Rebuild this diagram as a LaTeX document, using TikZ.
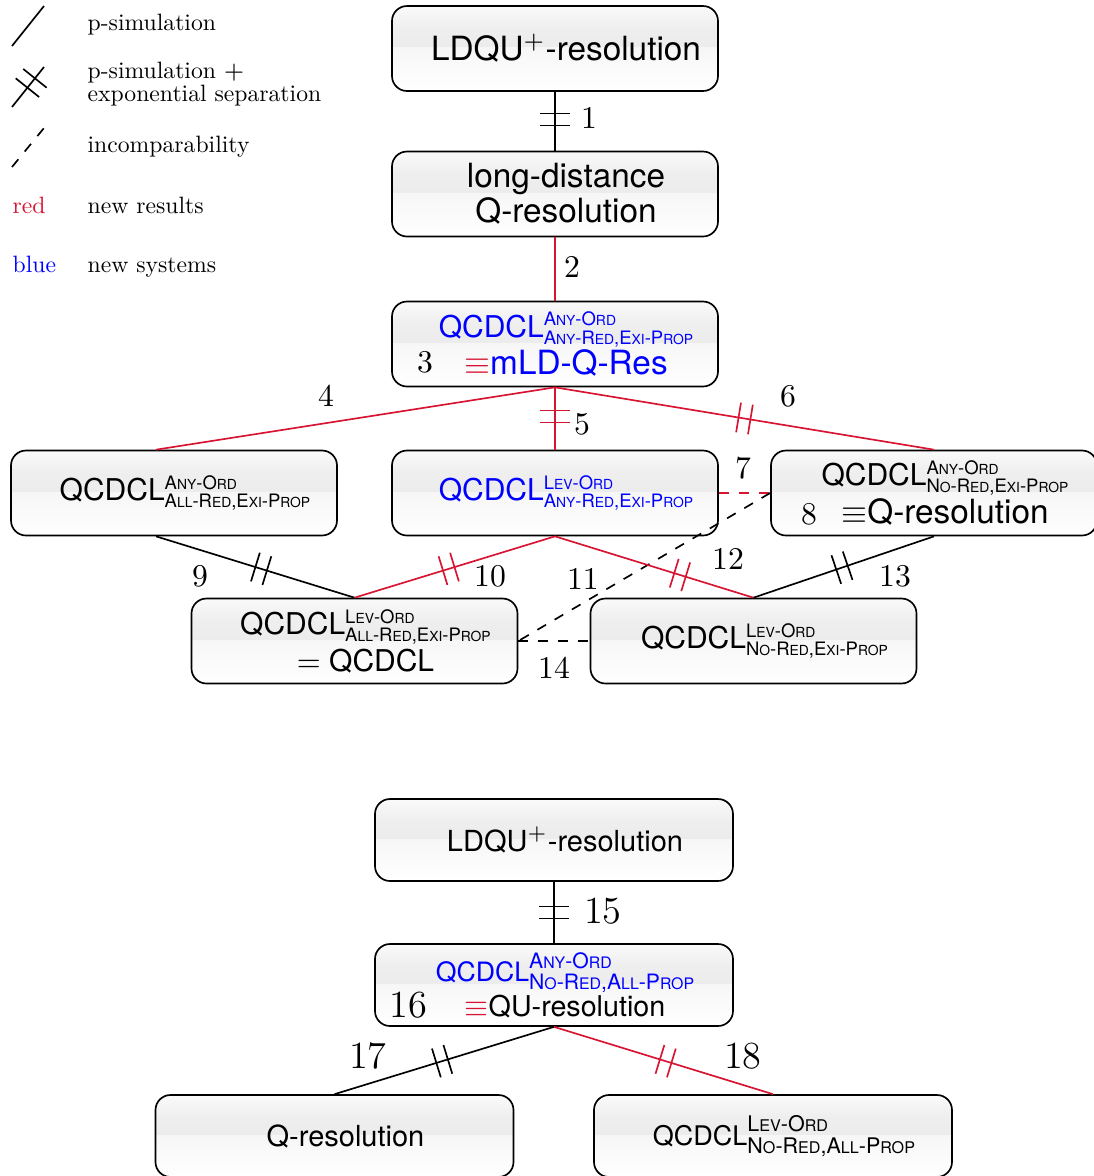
\documentclass[tikz,border=0pt]{standalone}
\usepackage{amsmath}
\usepackage{graphicx}
\usepackage{fontspec}
\newfontfamily\nodefont{TeX Gyre Heros}
\newfontfamily\legfont{lmroman10-regular.otf}
\usetikzlibrary{calc,decorations.markings}
\definecolor{newred}{RGB}{215,20,50}
\definecolor{newblue}{RGB}{0,0,255}
\pgfdeclareverticalshading{glossy}{100bp}{color(0bp)=(white); color(25bp)=(white); color(51bp)=(gray!7); color(51bp)=(gray!15); color(62bp)=(gray!13); color(75bp)=(gray!4); color(100bp)=(gray!4)}
% fake small caps
\newcommand\sC[2]{#1\scalebox{.75}{#2}}
\newcommand\anyord{\sC{A}{NY}-\sC{O}{RD}}
\newcommand\levord{\sC{L}{EV}-\sC{O}{RD}}
\newcommand\anyred{\sC{A}{NY}-\sC{R}{ED}}
\newcommand\allred{\sC{A}{LL}-\sC{R}{ED}}
\newcommand\nored{\sC{N}{O}-\sC{R}{ED}}
\newcommand\exiprop{\sC{E}{XI}-\sC{P}{ROP}}
\newcommand\allprop{\sC{A}{LL}-\sC{P}{ROP}}
% QCDCL with stacked super- and subscript
\newcommand\qcdcl[3][5.55]{QCDCL{\fontsize{#1}{#1}\selectfont
  \setbox0\hbox{#2}\setbox2\hbox{#3}%
  \ifdim\wd0>\wd2 \dimen0=\wd0 \else\dimen0=\wd2 \fi
  \rlap{\raise0.62em\box0}\lower0.38em\hbox to\dimen0{\box2\hss}}}
\newcommand\twolines[3][11pt]{\vbox{\baselineskip=#1\lineskiplimit=-100pt\lineskip=0pt
  \halign{\hfil##\hfil\cr#2\cr#3\cr}}}
\newcommand\qsize{\fontsize{9}{10}\selectfont}
\tikzset{
  sysbox/.style={draw, line width=0.5pt, rounded corners=4.5pt, shading=glossy,
    minimum width=97.8pt, minimum height=25.5pt, inner sep=0pt,
    font=\nodefont\fontsize{10}{12}\selectfont,
    execute at begin node={\hspace*{6.6pt}}},
  widebox/.style={sysbox, minimum width=107.4pt, minimum height=24.6pt},
  num/.style={font=\fontsize{9.5}{11}\selectfont, inner sep=0pt},
  bignum/.style={font=\fontsize{11.5}{13}\selectfont, inner sep=0pt},
  legtext/.style={font=\legfont\fontsize{7.1}{6.9}\selectfont, inner sep=0pt, anchor=base west},
  link/.style={line width=0.5pt},
  newlink/.style={link, color=newred},
  incomp/.style={link, dashed},
  sepbars/.style={postaction={decorate, decoration={markings,
    mark=at position #1 with {\draw[line width=0.5pt] (-1.8pt,-4.5pt)--(-1.8pt,4.5pt) (1.8pt,-4.5pt)--(1.8pt,4.5pt);}}}},
}
\begin{document}
\begin{tikzpicture}[x=0.3pt, y=-0.3pt, line join=round]
\useasboundingbox (0,0) rectangle (1094,1176);

% legend
\draw[link] (12,46) -- (44,6);
\draw[link, sepbars=0.6] (12,107) -- (44,67);
\draw[incomp] (12,167) -- (44,128);
\node[legtext] (lpsim) at (87,30) {p-simulation};
\node[legtext] (lsep) at (87,78) {\begin{tabular}[t]{@{}l@{}}p-simulation $+$\\exponential separation\end{tabular}};
\node[legtext] (linc) at (87,152) {incomparability};
\node[legtext, text=newred] (lred) at (12,213) {red};
\node[legtext] (lres) at (87,213) {new results};
\node[legtext, text=newblue] (lblue) at (12,272) {blue};
\node[legtext] (lsys) at (87,272) {new systems};

% upper diagram
\node[sysbox] (A) at (555,48.5) {LDQU$^+$-resolution};
\node[sysbox] (B) at (555,194) {\twolines[10.4pt]{long-distance}{Q-resolution}};
\node[sysbox, text=newblue] (C) at (555,344) {\twolines{\qsize\qcdcl{\anyord}{\anyred,\exiprop}}{\textcolor{newred}{$\equiv$}mLD-Q-Res}};
\node[sysbox] (D) at (174,493) {\qsize\qcdcl{\anyord}{\allred,\exiprop}};
\node[sysbox, text=newblue] (E) at (555,493) {\qsize\qcdcl{\levord}{\anyred,\exiprop}};
\node[sysbox] (F) at (934,493) {\twolines[11.4pt]{\qsize\qcdcl{\anyord}{\nored,\exiprop}}{$\equiv$Q-resolution}};
\node[sysbox] (G) at (354.5,641) {\twolines{\qsize\qcdcl{\levord}{\allred,\exiprop}}{\qsize$=$ QCDCL}};
\node[sysbox] (H) at (753.5,641) {\qsize\qcdcl{\levord}{\nored,\exiprop}};
\coordinate (Dn) at ($(D.north)+(-18,0)$);
\coordinate (Ds) at ($(D.south)+(-18,0)$);

\draw[link, sepbars=0.47] (A.south) -- (B.north);
\draw[newlink] (B.south) -- (C.north);
\draw[newlink] (C.south) -- (Dn);
\draw[newlink, sepbars=0.47] (C.south) -- (E.north);
\draw[newlink, sepbars=0.5] (C.south) -- (F.north);
\draw[newlink, dashed] (E.east) -- (F.west);
\draw[link, sepbars=0.53] (Ds) -- (G.north);
\draw[newlink, sepbars=0.53] (E.south) -- (G.north);
\draw[incomp] (F.west) -- (G.east);
\draw[newlink, sepbars=0.63] (E.south) -- (H.north);
\draw[link, sepbars=0.51] (F.south) -- (H.north);
\draw[incomp] (G.east) -- (H.west);

\node[num] (n1) at (589,118) {1};
\node[num] (n2) at (572,267) {2};
\node[num] (n3) at (425,362) {3};
\node[num] (n4) at (326,396) {4};
\node[num] (n5) at (582,424) {5};
\node[num] (n6) at (788,396) {6};
\node[num] (n7) at (743,468) {7};
\node[num] (n8) at (809,514) {8};
\node[num] (n9) at (200,576) {9};
\node[num] (n10) at (490,576) {10};
\node[num] (n11) at (583,579) {11};
\node[num] (n12) at (728,559) {12};
\node[num] (n13) at (895,576) {13};
\node[num] (n14) at (554,668) {14};

% lower diagram
\node[widebox, font=\nodefont\fontsize{8.7}{11}\selectfont] (I) at (554,840) {LDQU$^+$-resolution};
\node[widebox, font=\nodefont\fontsize{8.6}{10}\selectfont] (J) at (554,985) {\twolines[10.5pt]{\fontsize{8}{9}\selectfont\textcolor{newblue}{\qcdcl[6.35]{\anyord}{\nored,\allprop}}}{\textcolor{newred}{$\equiv$}QU-resolution}};
\node[widebox, font=\nodefont\fontsize{8.7}{10}\selectfont] (K) at (334.5,1136) {Q-resolution};
\node[widebox, font=\nodefont\fontsize{8.1}{9}\selectfont] (L) at (773,1136) {\qcdcl[6.45]{\levord}{\nored,\allprop}};

\draw[link, sepbars=0.5] (I.south) -- (J.north);
\draw[link, sepbars=0.51] (J.south) -- (K.north);
\draw[newlink, sepbars=0.51] (J.south) -- (L.north);

\node[bignum] (n15) at (603,911) {15};
\node[bignum] (n16) at (408,1005) {16};
\node[bignum] (n17) at (368,1056) {17};
\node[bignum] (n18) at (743,1056) {18};
\end{tikzpicture}
\end{document}
